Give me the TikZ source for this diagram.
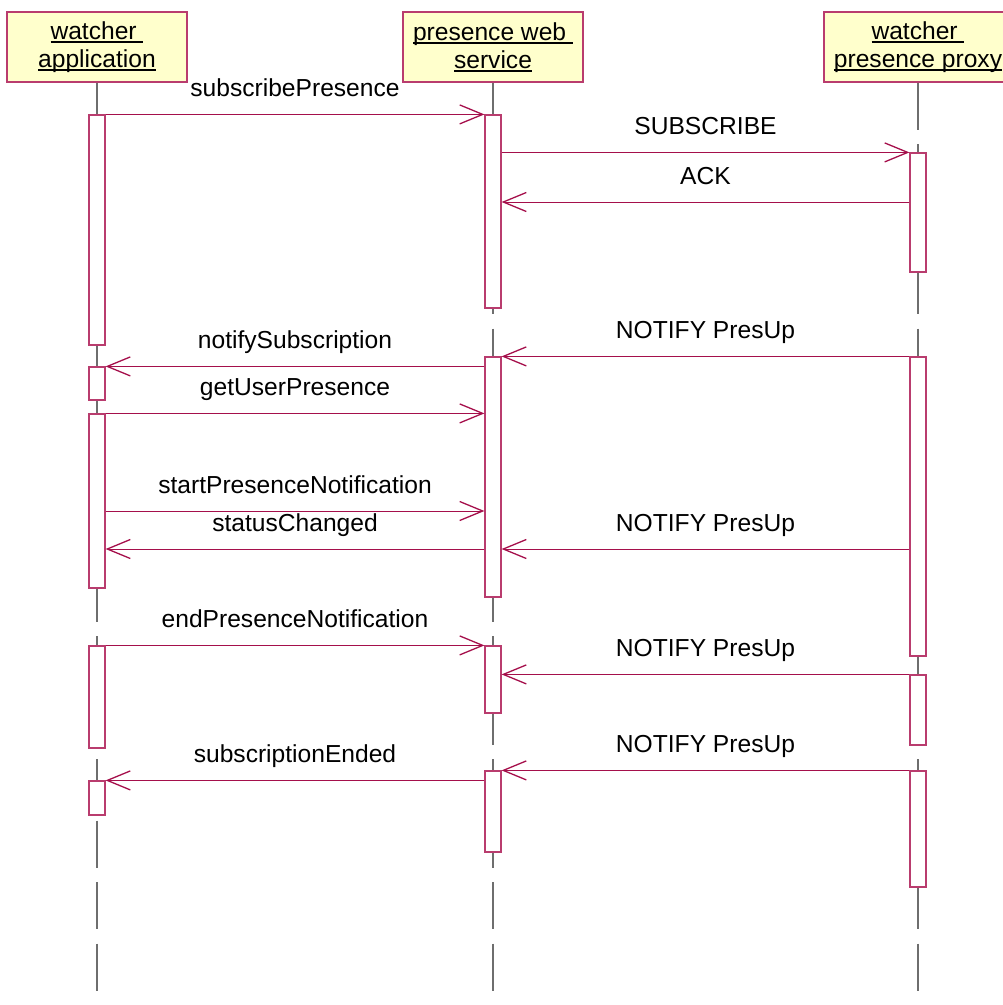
\documentclass[tikz,border=0pt]{standalone}
\usepackage{fontspec}
\setmainfont{Liberation Sans}
\usetikzlibrary{arrows.meta,calc}
\definecolor{msgc}{RGB}{165,15,75}
\definecolor{actc}{RGB}{185,60,110}
\definecolor{headfill}{RGB}{255,255,204}
\definecolor{lifec}{RGB}{110,110,110}
\newcommand\ulx[1]{\setbox0\hbox{#1}\rlap{\rule[-3.5pt]{\wd0}{1.5pt}}\box0}
\newcommand\actbox[4]{\node[act, minimum height={(#4-#3)*1pt}] (#1) at (#2,{(#3+#4)/2}) {};}
\begin{document}
\begin{tikzpicture}[x=1pt,y=-1pt, font=\fontsize{24.6}{28}\selectfont,
  head/.style={draw=actc, line width=1.2pt, fill=headfill, minimum height=70pt, align=center, inner sep=0pt},
  act/.style={draw=actc, line width=1.2pt, fill=white, minimum width=16pt, inner sep=0pt},
  msg/.style={draw=msgc, line width=1pt, -{Straight Barb[length=23pt,width=19pt,line width=1.3pt]}},
  life/.style={draw=lifec, line width=1.3pt, dash pattern=on 47pt off 14.5pt},
  lbl/.style={anchor=base, yshift=18pt, inner sep=0pt}]
\useasboundingbox (0,0) rectangle (1003,1005);
% headers
\node[head, minimum width=180pt] (H1) at (97,47) {\ulx{watcher\ }\\\ulx{application}};
\node[head, minimum width=180pt] (H2) at (493,47) {\ulx{presence web\ }\\\ulx{service}};
\node[head, minimum width=188pt] (H3) at (918,47) {\ulx{watcher\ }\\\ulx{presence proxy}};
% lifeline ends
\coordinate (E1) at (97,991);
\coordinate (E2) at (493,991);
\coordinate (E3) at (918,991);
\draw[life] (H1.south) -- (E1);
\draw[life] (H2.south) -- (E2);
\draw[life] (H3.south) -- (E3);
% activations: watcher
\actbox{A1}{97}{115}{345}
\actbox{A2}{97}{367}{400}
\actbox{A3}{97}{414}{588}
\actbox{A4}{97}{646}{748}
\actbox{A5}{97}{781}{815}
% presence web service
\actbox{B1}{493}{115}{308}
\actbox{B2}{493}{357}{597}
\actbox{B3}{493}{646}{713}
\actbox{B4}{493}{771}{852}
% proxy
\actbox{C1}{918}{153}{272}
\actbox{C2}{918}{357}{656}
\actbox{C3}{918}{675}{745}
\actbox{C4}{918}{771}{887}
% message heights
\coordinate (m3) at (0,202);
\coordinate (m7) at (0,511);
\coordinate (m8) at (0,549);
% messages
\draw[msg] (A1.north east) -- node[lbl] {subscribePresence} (B1.north west);
\draw[msg] (B1.east |- C1.north) -- node[lbl] {SUBSCRIBE} (C1.north west);
\draw[msg] (C1.west |- m3) -- node[lbl] {ACK} (B1.east |- m3);
\draw[msg] (C2.north west) -- node[lbl] {NOTIFY PresUp} (B2.north east);
\draw[msg] (B2.west |- A2.north) -- node[lbl] {notifySubscription} (A2.north east);
\draw[msg] (A3.north east) -- node[lbl] {getUserPresence} (B2.west |- A3.north);
\draw[msg] (A3.east |- m7) -- node[lbl] {startPresenceNotification} (B2.west |- m7);
\draw[msg] (B2.west |- m8) -- node[lbl] {statusChanged} (A3.east |- m8);
\draw[msg] (C2.west |- m8) -- node[lbl] {NOTIFY PresUp} (B2.east |- m8);
\draw[msg] (A4.north east) -- node[lbl] {endPresenceNotification} (B3.north west);
\draw[msg] (C3.north west) -- node[lbl] {NOTIFY PresUp} (B3.east |- C3.north);
\draw[msg] (C4.north west) -- node[lbl] {NOTIFY PresUp} (B4.north east);
\draw[msg] (B4.west |- A5.north) -- node[lbl] {subscriptionEnded} (A5.north east);
\end{tikzpicture}
\end{document}
